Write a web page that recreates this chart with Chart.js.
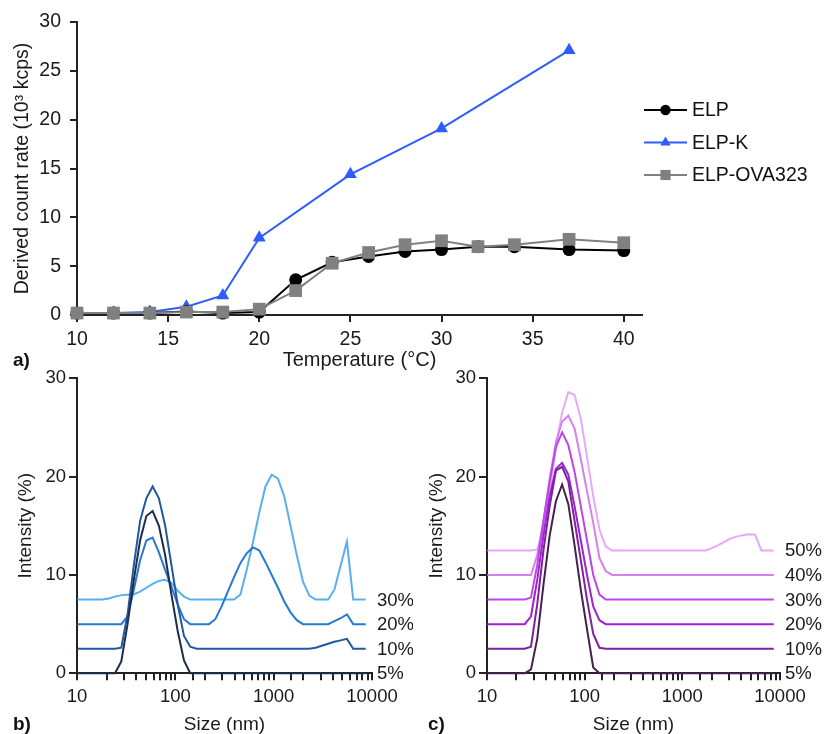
<!DOCTYPE html>
<html><head><meta charset="utf-8">
<script src="https://cdn.jsdelivr.net/npm/chart.js@4.4.0/dist/chart.umd.min.js"></script>
<style>
html,body{margin:0;padding:0;background:#fff;}
#wrap{position:relative;width:826px;height:734px;overflow:hidden;background:#fff;}
canvas{position:absolute;}
</style></head><body>
<div id="wrap">
<canvas id="cA" width="826" height="372" style="left:0;top:0"></canvas>
<canvas id="cB" width="413" height="396" style="left:0;top:340px"></canvas>
<canvas id="cC" width="413" height="396" style="left:413px;top:340px"></canvas>
</div>
<script>
// ---- Panel a) data ----
const elpTemp = [10,12,14,16,18,20,22,24,26,28,30,32,34,37,40];
const elpRate = [0.2,0.2,0.2,0.35,0.2,0.3,3.6,5.4,6.0,6.5,6.7,7.0,7.0,6.7,6.6];
const elpKTemp = [10,12,14,16,18,20,25,30,37];
const elpKRate = [0.2,0.2,0.3,0.85,2.0,7.9,14.4,19.1,27.1];
const ovaTemp = [10,12,14,16,18,20,22,24,26,28,30,32,34,37,40];
const ovaRate = [0.2,0.2,0.2,0.3,0.3,0.6,2.5,5.3,6.4,7.2,7.6,7.0,7.2,7.75,7.4];
const tempTicks = [10,15,20,25,30,35,40];
const rateTicks = [0,5,10,15,20,25,30];

// ---- Panels b) and c) data (size bins in nm, intensity in %) ----
const sizes = [10.1,11.7,13.54,15.69,18.17,21.04,24.36,28.21,32.67,37.84,
  43.82,50.75,58.77,68.06,78.82,91.28,105.7,122.4,141.8,164.2,
  190.1,220.2,255.0,295.3,342.0,396.1,458.7,531.2,615.1,712.4,
  825.0,955.4,1106,1281,1484,1718,1990,2305,2669,3091,
  3580,4145,4801,5560,6439,7456,8635];
const sizeTickLabels = [10,100,1000,10000];

const b5 = [0,0,0,0,0,0,0,1.2,5.0,9.5,
  13.5,16.0,16.5,15.0,12.0,8.0,4.3,1.3,0,0,
  0,0,0,0,0,0,0,0,0,0,
  0,0,0,0,0,0,0,0,0,0,
  0,0,0,0,0,0,0];
const b10 = [2.5,2.5,2.5,2.5,2.5,2.5,2.5,2.6,6.0,11.0,
  15.5,17.8,19.0,17.8,15.0,11.0,7.0,3.8,2.7,2.5,
  2.5,2.5,2.5,2.5,2.5,2.5,2.5,2.5,2.5,2.5,
  2.5,2.5,2.5,2.5,2.5,2.5,2.5,2.5,2.6,2.8,
  3.0,3.2,3.35,3.5,2.5,2.5,2.5];
const b20 = [5,5,5,5,5,5,5,5.0,5.8,8.5,
  11.5,13.5,13.8,12.3,10.5,8.8,7.0,5.5,5.0,5.0,
  5.0,5.0,5.5,6.8,8.3,9.8,11.2,12.2,12.8,12.5,
  11.3,10.0,8.7,7.3,6.2,5.4,5.0,5.0,5.0,5.0,
  5.0,5.3,5.6,6.0,5.0,5.0,5.0];
const b30 = [7.5,7.5,7.5,7.5,7.5,7.6,7.8,7.95,8.0,8.05,
  8.3,8.7,9.1,9.4,9.5,9.2,8.4,7.8,7.5,7.5,
  7.5,7.5,7.5,7.5,7.5,7.5,8.0,10.5,13.3,16.3,
  19.0,20.2,19.8,18.0,15.0,12.0,9.3,7.9,7.5,7.5,
  7.5,8.5,11.0,13.4,7.5,7.5,7.5];
const bLabels = ['5%','10%','20%','30%'];
const bBaselines = [0,2.5,5,7.5];

const c5 = [0,0,0,0,0,0,0,0.4,3.5,9.0,
  14.0,17.5,19.2,17.2,13.0,8.5,4.5,0.6,0,0,
  0,0,0,0,0,0,0,0,0,0,
  0,0,0,0,0,0,0,0,0,0,
  0,0,0,0,0,0,0];
const c10 = [2.5,2.5,2.5,2.5,2.5,2.5,2.5,2.7,7.0,12.5,
  17.0,20.6,21.0,19.5,15.5,11.5,7.5,4.0,2.6,2.5,
  2.5,2.5,2.5,2.5,2.5,2.5,2.5,2.5,2.5,2.5,
  2.5,2.5,2.5,2.5,2.5,2.5,2.5,2.5,2.5,2.5,
  2.5,2.5,2.5,2.5,2.5,2.5,2.5];
const c20 = [5,5,5,5,5,5,5,5.8,9.5,14.0,
  18.0,20.8,21.4,20.2,17.0,13.5,10.0,6.8,5.4,5.0,
  5,5,5,5,5,5,5,5,5,5,
  5,5,5,5,5,5,5,5,5,5,
  5,5,5,5,5,5,5];
const c30 = [7.5,7.5,7.5,7.5,7.5,7.5,7.5,7.7,11.0,15.5,
  19.5,23.0,24.5,23.2,20.5,17.0,13.5,10.0,8.0,7.5,
  7.5,7.5,7.5,7.5,7.5,7.5,7.5,7.5,7.5,7.5,
  7.5,7.5,7.5,7.5,7.5,7.5,7.5,7.5,7.5,7.5,
  7.5,7.5,7.5,7.5,7.5,7.5,7.5];
const c40 = [10,10,10,10,10,10,10,10,12.0,15.5,
  19.8,23.5,25.6,26.2,24.9,21.8,18.5,15.3,11.7,10.4,
  10,10,10,10,10,10,10,10,10,10,
  10,10,10,10,10,10,10,10,10,10,
  10,10,10,10,10,10,10];
const c50 = [12.5,12.5,12.5,12.5,12.5,12.5,12.5,12.5,12.6,14.5,
  18.5,23.0,26.5,28.6,28.3,25.9,22.0,18.0,14.6,12.9,
  12.5,12.5,12.5,12.5,12.5,12.5,12.5,12.5,12.5,12.5,
  12.5,12.5,12.5,12.5,12.5,12.5,12.7,13.0,13.35,13.7,
  13.9,14.05,14.15,14.1,12.5,12.5,12.5];
const cLabels = ['5%','10%','20%','30%','40%','50%'];
const cBaselines = [0,2.5,5,7.5,10,12.5];
const intensityTicks = [0,10,20,30];

// ---- styling ----
const FONT = "'Liberation Sans', Arial, Helvetica, sans-serif";
const INK = '#1a1a1a';
Chart.defaults.font.family = FONT;
Chart.defaults.color = INK;

function pts(xs, ys){ return xs.map((x,i)=>({x:x, y:ys[i]})); }

function marker(ctx, style, x, y, r){
  ctx.beginPath();
  if (style === 'circle') { ctx.arc(x, y, r, 0, Math.PI*2); }
  else if (style === 'rect') { const s = r*Math.SQRT1_2; ctx.rect(x-s, y-s, 2*s, 2*s); }
  else if (style === 'triangle') {
    ctx.moveTo(x, y - r);
    ctx.lineTo(x + r*Math.sin(Math.PI*2/3), y - r*Math.cos(Math.PI*2/3));
    ctx.lineTo(x + r*Math.sin(Math.PI*4/3), y - r*Math.cos(Math.PI*4/3));
    ctx.closePath();
  }
  ctx.fill();
}

const legendPlugin = {
  id: 'customLegend',
  afterDraw(chart){
    const ctx = chart.ctx;
    chart.data.datasets.forEach((ds, i) => {
      const y = 110 + i*32.5, x0 = 644, x1 = 687;
      ctx.save();
      ctx.strokeStyle = ds.borderColor; ctx.fillStyle = ds.backgroundColor;
      ctx.lineWidth = 2;
      ctx.beginPath(); ctx.moveTo(x0, y); ctx.lineTo(x1, y); ctx.stroke();
      marker(ctx, ds.pointStyle, (x0+x1)/2, y, ds.pointRadius*0.8);
      ctx.fillStyle = '#111';
      ctx.font = '19.5px ' + FONT;
      ctx.textBaseline = 'middle';
      ctx.fillText(ds.label, 692, y + 1);
      ctx.restore();
    });
  }
};

function panelLabel(text, x, y){
  return { id: 'panel_' + text.replace(')', ''), afterDraw(chart){
    const ctx = chart.ctx; ctx.save();
    ctx.font = 'bold 19px ' + FONT; ctx.fillStyle = '#111'; ctx.textBaseline = 'middle';
    ctx.fillText(text, x, y); ctx.restore();
  }};
}

function seriesLabels(labels, baselines){
  return { id: 'seriesLabels', afterDraw(chart){
    const ctx = chart.ctx, ys = chart.scales.y, a = chart.chartArea;
    ctx.save(); ctx.font = '18.5px ' + FONT; ctx.fillStyle = INK; ctx.textBaseline = 'middle';
    labels.forEach((t, i) => ctx.fillText(t, a.right + 5, ys.getPixelForValue(baselines[i]) + 1));
    ctx.restore();
  }};
}

const axisCommon = (tickLen) => ({
  grid: { display: true, drawOnChartArea: false, drawTicks: true, tickLength: tickLen, color: '#222', lineWidth: 2 },
  border: { display: true, color: '#222', width: 2 }
});

// ---- Panel a) ----
new Chart(document.getElementById('cA'), {
  type: 'line',
  data: { datasets: [
    { label: 'ELP', data: pts(elpTemp, elpRate), borderColor: '#000000', backgroundColor: '#000000',
      pointStyle: 'circle', pointRadius: 6.5, pointBorderWidth: 0, borderWidth: 2, order: 1, clip: false },
    { label: 'ELP-K', data: pts(elpKTemp, elpKRate), borderColor: '#2f5cff', backgroundColor: '#2f5cff',
      pointStyle: 'triangle', pointRadius: 7.5, pointBorderWidth: 0, borderWidth: 2, order: 2, clip: false },
    { label: 'ELP-OVA323', data: pts(ovaTemp, ovaRate), borderColor: '#808080', backgroundColor: '#808080',
      pointStyle: 'rect', pointRadius: 9, pointBorderWidth: 0, borderWidth: 2, order: 0, clip: false }
  ]},
  options: {
    responsive: false, animation: false, events: [],
    layout: { padding: { left: 0, top: 22, right: 184, bottom: 0 } },
    plugins: { legend: { display: false }, tooltip: { enabled: false } },
    scales: {
      x: Object.assign({ type: 'linear', min: 10, max: 41,
        afterBuildTicks(s){ s.ticks = tempTicks.map(v => ({value: v})); },
        ticks: { padding: 6, font: { size: 19.5 }, color: INK, maxRotation: 0, autoSkip: false },
        title: { display: true, text: 'Temperature (°C)', font: { size: 20 }, color: INK, padding: { top: 0, bottom: 0 } },
        afterFit(s){ s.height = 57; } }, axisCommon(7)),
      y: Object.assign({ min: 0, max: 30,
        afterBuildTicks(s){ s.ticks = rateTicks.map(v => ({value: v})); },
        ticks: { padding: 9, font: { size: 19.5 }, color: INK },
        title: { display: true, text: 'Derived count rate (10³ kcps)', font: { size: 19.5 }, color: INK, padding: { top: 11, bottom: 0 } },
        afterFit(s){ s.width = 77; } }, axisCommon(7))
    }
  },
  plugins: [legendPlugin, panelLabel('a)', 13, 361)]
});

// ---- Panels b) and c) ----
function dlsChart(id, series, colors, labels, baselines, yWidth, padRight, titlePad, tag, tagX){
  new Chart(document.getElementById(id), {
    type: 'line',
    data: { labels: sizes, datasets: series.map((s, i) => ({
      data: s, borderColor: colors[i], backgroundColor: colors[i], borderWidth: 2,
      pointRadius: 0, tension: 0, clip: false })) },
    options: {
      responsive: false, animation: false, events: [],
      layout: { padding: { left: 0, top: 38.3, right: padRight, bottom: 0 } },
      plugins: { legend: { display: false }, tooltip: { enabled: false } },
      scales: {
        x: Object.assign({ type: 'logarithmic', min: 10, max: 10000,
          ticks: { padding: 6, font: { size: 18.5 }, color: INK, maxRotation: 0, autoSkip: false,
            callback: (v) => sizeTickLabels.includes(v) ? String(v) : '' },
          title: { display: true, text: 'Size (nm)', font: { size: 19 }, color: INK, padding: { top: 0, bottom: 0 } },
          afterFit(s){ s.height = 62.7; } }, axisCommon(7)),
        y: Object.assign({ min: 0, max: 30,
          afterBuildTicks(s){ s.ticks = intensityTicks.map(v => ({value: v})); },
          ticks: { padding: 3, font: { size: 18.5 }, color: INK },
          title: { display: true, text: 'Intensity (%)', font: { size: 19 }, color: INK, padding: { top: titlePad, bottom: 0 } },
          afterFit(s){ s.width = yWidth; } }, axisCommon(8))
      }
    },
    plugins: [seriesLabels(labels, baselines), panelLabel(tag, tagX, 385)]
  });
}

dlsChart('cB', [b5, b10, b20, b30],
  ['#1c2e4c', '#1f5aa0', '#2479d4', '#58aff0'],
  bLabels, bBaselines, 77, 41, 14, 'b)', 13);
dlsChart('cC', [c5, c10, c20, c30, c40, c50],
  ['#46204f', '#7e22a0', '#a022d2', '#bf45e6', '#d57ff2', '#e8a8f8'],
  cLabels, cBaselines, 74, 46, 12, 'c)', 15);
</script>
</body></html>
